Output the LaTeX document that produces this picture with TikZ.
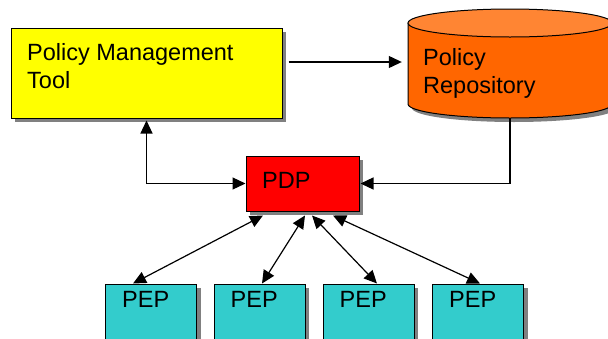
\documentclass[tikz,border=0pt]{standalone}
\usepackage{fontspec}
\setmainfont{Liberation Sans}
\usetikzlibrary{arrows.meta,shadows}
\definecolor{pmtyellow}{HTML}{FFFF00}
\definecolor{repoorange}{HTML}{FF6600}
\definecolor{repotop}{HTML}{FF8533}
\definecolor{pdpred}{HTML}{FF0000}
\definecolor{pepteal}{HTML}{33CCCC}
\definecolor{shadowgray}{HTML}{808080}
\tikzset{
  boxshadow/.style={general shadow={fill=shadowgray, shadow xshift=4pt, shadow yshift=-4pt}},
  box/.style={draw=black, line width=1pt, inner sep=0pt, boxshadow},
  label/.style={font=\fontsize{23.5}{28}\selectfont, inner sep=0pt, anchor=base west, align=left},
  conn/.style={line width=1.2pt, draw=black},
  tip/.style={-{Triangle[length=13pt,width=12pt]}},
  bitip/.style={{Triangle[length=13pt,width=12pt]}-{Triangle[length=13pt,width=12pt]}},
}
\begin{document}
\begin{tikzpicture}[x=1pt,y=-1pt]
\clip (0,0) rectangle (608,338);
\useasboundingbox (0,0) rectangle (608,338);
% Policy Management Tool
\node[box, fill=pmtyellow, minimum width=271pt, minimum height=90pt] (pmt) at (146.5,73) {};
\node[label] (pmttext) at (27,88) {Policy Management\\Tool};
% Policy Repository cylinder
\fill[shadowgray] (412,27) -- (412,108) arc[start angle=180,end angle=0,x radius=102,y radius=14] -- (616,27) -- cycle;
\fill[repoorange] (408,23) -- (408,104) arc[start angle=180,end angle=0,x radius=102,y radius=14] -- (612,23) -- cycle;
\draw[line width=1pt] (408,23) -- (408,104) arc[start angle=180,end angle=0,x radius=102,y radius=14] -- (612,23);
\filldraw[fill=repotop, line width=1pt] (510,23) ellipse[x radius=102,y radius=14];
\node[inner sep=0pt, minimum width=204pt, minimum height=109pt] (repo) at (510,63.5) {};
\node[label] (repotext) at (423,93) {Policy\\Repository};
% PDP
\node[box, fill=pdpred, minimum width=113pt, minimum height=55pt] (pdp) at (302.5,183.5) {};
\node[label] (pdptext) at (262,188) {PDP};
% PEPs
\foreach \i/\cx in {1/151,2/259.5,3/368.5,4/478}{
  \node[box, fill=pepteal, minimum width=91pt, minimum height=70pt] (pep\i) at (\cx,319) {};
  \node[label] (peptext\i) at ([shift={(-29,-12)}]pep\i.center) {PEP};
}
% connectors
\draw[conn, tip] ([shift={(6,-11)}]pmt.east) -- ([shift={(-6,-1.5)}]repo.west);
\draw[conn, bitip] ([yshift=-2pt]pmt.south) |- (pdp.west);
\draw[conn, tip] (repo.south) |- ([xshift=1pt]pdp.east);
\draw[conn, bitip] ([shift={(-39.5,4)}]pdp.south) -- ([xshift=-18pt]pep1.north);
\draw[conn, bitip] ([shift={(2.5,4)}]pdp.south) -- ([xshift=2.5pt]pep2.north);
\draw[conn, bitip] ([shift={(9.5,4)}]pdp.south) -- ([xshift=8.5pt]pep3.north);
\draw[conn, bitip] ([shift={(30.5,4)}]pdp.south) -- ([xshift=2pt]pep4.north);
\end{tikzpicture}
\end{document}
